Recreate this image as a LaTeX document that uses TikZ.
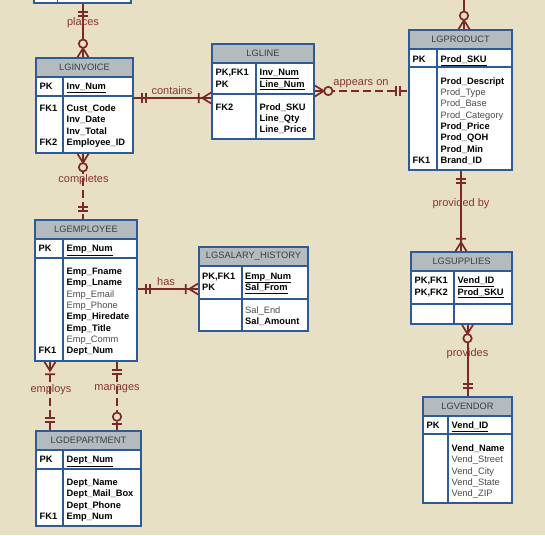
\documentclass[tikz,border=0pt]{standalone}
\usepackage{fontspec}
\setmainfont{Liberation Sans}

\definecolor{paper}{HTML}{E8E0C5}
\definecolor{tblue}{HTML}{2C5B97}
\definecolor{hdrgray}{HTML}{B3BBBE}
\definecolor{hdrtext}{HTML}{3A3F44}
\definecolor{relred}{HTML}{7A2828}
\definecolor{lblred}{HTML}{863535}
\definecolor{optgray}{HTML}{4A4A4A}

\newcommand{\tabfont}{\fontsize{9.3}{11.35}\selectfont}
\newcommand{\optattr}[1]{{\mdseries\color{optgray}#1}}

% table: name, left, top, right, key column, PK row bottom, bottom, title
\newcommand{\entity}[8]{%
  \fill[white] (#2,#3) rectangle (#4,#7);
  \fill[hdrgray] (#2,#3) rectangle (#4,#3+19);
  \draw[tline] (#2,#3+19) -- (#4,#3+19) (#2,#6) -- (#4,#6) (#5,#3+19) -- (#5,#7);
  \node[tbox, minimum width=#4-#2, minimum height=#7-#3] (#1) at ({(#2+#4)/2},{(#3+#7)/2}) {};
  \node[ttl] (#1-t) at ({(#2+#4)/2},#3+9.5) {#8};
}

\tikzset{
  endln/.style={draw=relred, line width=1.7pt, solid},
  onebar/.pic={\draw[endln] (8,-5) -- (8,5) (12,-5) -- (12,5);},
  crowbar/.pic={\draw[endln] (0,-5.5) -- (9,0) -- (0,5.5) (12.5,-5) -- (12.5,5);},
  crowring/.pic={\draw[endln] (0,-5.5) -- (9,0) -- (0,5.5); \draw[endln, fill=paper] (13.5,0) circle (4.2);},
  barring/.pic={\draw[endln] (6,-5) -- (6,5); \draw[endln, fill=paper] (13.5,0) circle (4.2);}
}

\begin{document}
\begin{tikzpicture}[x=1pt, y=-1pt,
  tbox/.style={draw=tblue, line width=1.6pt, inner sep=0pt},
  tline/.style={draw=tblue, line width=1.3pt},
  ttl/.style={inner sep=0pt, text=hdrtext, font=\tabfont},
  rowtext/.style={anchor=north west, inner sep=0pt, align=left, font=\tabfont\bfseries, text=black},
  rel/.style={draw=relred, line width=2pt},
  reldash/.style={rel, dash pattern=on 8pt off 4pt},
  lbl/.style={inner sep=0pt, text=lblred, font=\fontsize{11}{13}\selectfont}]

\useasboundingbox (0,0) rectangle (545,535);
\fill[paper] (0,0) rectangle (545,535);
\clip (0,0) rectangle (545,535);

\entity{cus}{34}{-40}{131}{57.5}{-10}{3}{}

\entity{inv}{36}{58}{133}{63}{96}{153}{LGINVOICE}
\node[rowtext] (inv-pk) at (39.5,81.55) {\strut PK};
\node[rowtext] (inv-id) at (66.5,81.55) {\strut\underline{Inv\_Num}};
\node[rowtext] (inv-fk1) at (39.5,103.25) {\strut FK1};
\node[rowtext] (inv-fk2) at (39.5,137.3) {\strut FK2};
\node[rowtext] (inv-at) at (66.5,103.25) {\strut Cust\_Code\\Inv\_Date\\Inv\_Total\\Employee\_ID};

\entity{line}{212}{44}{314}{256}{94}{139}{LGLINE}
\node[rowtext] (line-pk) at (215.5,67.55) {\strut PK,FK1\\PK};
\node[rowtext] (line-id) at (259.5,67.55) {\strut\underline{Inv\_Num}\\\underline{Line\_Num}};
\node[rowtext] (line-fk) at (215.5,102.05) {\strut FK2};
\node[rowtext] (line-at) at (259.5,102.05) {\strut Prod\_SKU\\Line\_Qty\\Line\_Price};

\entity{prod}{409}{30}{512}{437}{67}{170}{LGPRODUCT}
\node[rowtext] (prod-pk) at (412.5,54.05) {\strut PK};
\node[rowtext] (prod-id) at (440.5,54.05) {\strut\underline{Prod\_SKU}};
\node[rowtext] (prod-fk) at (412.5,155.5) {\strut FK1};
\node[rowtext] (prod-at) at (440.5,76.05) {\strut Prod\_Descript\\\optattr{Prod\_Type}\\\optattr{Prod\_Base}\\\optattr{Prod\_Category}\\Prod\_Price\\Prod\_QOH\\Prod\_Min\\Brand\_ID};

\entity{emp}{35}{220}{137}{63}{258}{361}{LGEMPLOYEE}
\node[rowtext] (emp-pk) at (38.5,243.55) {\strut PK};
\node[rowtext] (emp-id) at (66.5,243.55) {\strut\underline{Emp\_Num}};
\node[rowtext] (emp-fk) at (38.5,345.7) {\strut FK1};
\node[rowtext] (emp-at) at (66.5,266.25) {\strut Emp\_Fname\\Emp\_Lname\\\optattr{Emp\_Email}\\\optattr{Emp\_Phone}\\Emp\_Hiredate\\Emp\_Title\\\optattr{Emp\_Comm}\\Dept\_Num};

\entity{sal}{199}{247}{308}{242}{299}{331}{LGSALARY\_HISTORY}
\node[rowtext] (sal-pk) at (202,271.05) {\strut PK,FK1\\PK};
\node[rowtext] (sal-id) at (245,271.05) {\strut\underline{Emp\_Num}\\\underline{Sal\_From}};
\node[rowtext] (sal-at) at (245,305.25) {\strut\optattr{Sal\_End}\\Sal\_Amount};

\entity{sup}{411}{252}{512}{454}{304}{324}{LGSUPPLIES}
\node[rowtext] (sup-pk) at (414.5,275.55) {\strut PK,FK1\\PK,FK2};
\node[rowtext] (sup-id) at (457.5,275.55) {\strut\underline{Vend\_ID}\\\underline{Prod\_SKU}};

\entity{ven}{423}{397}{512}{448}{434}{503}{LGVENDOR}
\node[rowtext] (ven-pk) at (426.5,420.55) {\strut PK};
\node[rowtext] (ven-id) at (451.5,420.55) {\strut\underline{Vend\_ID}};
\node[rowtext] (ven-at) at (451.5,443.25) {\strut Vend\_Name\\\optattr{Vend\_Street}\\\optattr{Vend\_City}\\\optattr{Vend\_State}\\\optattr{Vend\_ZIP}};

\entity{dep}{36}{431}{141}{63}{469}{526}{LGDEPARTMENT}
\node[rowtext] (dep-pk) at (39.5,454.55) {\strut PK};
\node[rowtext] (dep-id) at (66.5,454.55) {\strut\underline{Dept\_Num}};
\node[rowtext] (dep-fk) at (39.5,511.3) {\strut FK1};
\node[rowtext] (dep-at) at (66.5,477.25) {\strut Dept\_Name\\Dept\_Mail\_Box\\Dept\_Phone\\Emp\_Num};

% places
\draw[rel] (cus.south -| 83,0) -- (inv.north -| 83,0);
\pic[rotate=-90] at (cus.south -| 83,0) {onebar};
\pic[rotate=90] at (inv.north -| 83,0) {crowring};
\node[lbl] (places) at (83,23) {places};

% contains
\draw[rel] (inv.east |- 0,98) -- (line.west |- 0,98);
\pic at (inv.east |- 0,98) {onebar};
\pic[rotate=180] at (line.west |- 0,98) {crowbar};
\node[lbl] (contains) at (172,91) {contains};

% appears on
\draw[reldash] (line.east |- 0,91) -- (prod.west |- 0,91);
\pic at (line.east |- 0,91) {crowring};
\pic[rotate=180] at (prod.west |- 0,91) {onebar};
\node[lbl] (appears) at (361,84) {appears on};

% completes
\draw[reldash] (inv.south -| 83,0) -- (emp.north -| 83,0);
\pic[rotate=-90] at (inv.south -| 83,0) {crowring};
\pic[rotate=90] at (emp.north -| 83,0) {onebar};
\node[lbl] (completes) at (83.5,180) {completes};

% has
\draw[rel] (emp.east |- 0,289) -- (sal.west |- 0,289);
\pic at (emp.east |- 0,289) {onebar};
\pic[rotate=180] at (sal.west |- 0,289) {crowbar};
\node[lbl] (has) at (166,282) {has};

% employs
\draw[reldash] (emp.south -| 50,0) -- (dep.north -| 50,0);
\pic[rotate=-90] at (emp.south -| 50,0) {crowbar};
\pic[rotate=90] at (dep.north -| 50,0) {onebar};
\node[lbl] (employs) at (51,390) {employs};

% manages
\draw[reldash] (emp.south -| 117,0) -- (dep.north -| 117,0);
\pic[rotate=-90] at (emp.south -| 117,0) {onebar};
\pic[rotate=90] at (dep.north -| 117,0) {barring};
\node[lbl] (manages) at (117,389) {manages};

% from above LGPRODUCT
\coordinate (brand) at (464,-10);
\draw[rel] (brand) -- (prod.north -| brand);
\pic[rotate=90] at (prod.north -| brand) {crowring};

% provided by
\draw[rel] (prod.south -| 461,0) -- (sup.north -| 461,0);
\pic[rotate=-90] at (prod.south -| 461,0) {onebar};
\pic[rotate=90] at (sup.north -| 461,0) {crowbar};
\node[lbl] (providedby) at (461,204) {provided by};

% provides
\draw[rel] (sup.south -| 467.5,0) -- (ven.north -| 467.5,0);
\pic[rotate=-90] at (sup.south -| 467.5,0) {crowring};
\pic[rotate=90] at (ven.north -| 467.5,0) {onebar};
\node[lbl] (provides) at (467.5,354) {provides};

\end{tikzpicture}
\end{document}
